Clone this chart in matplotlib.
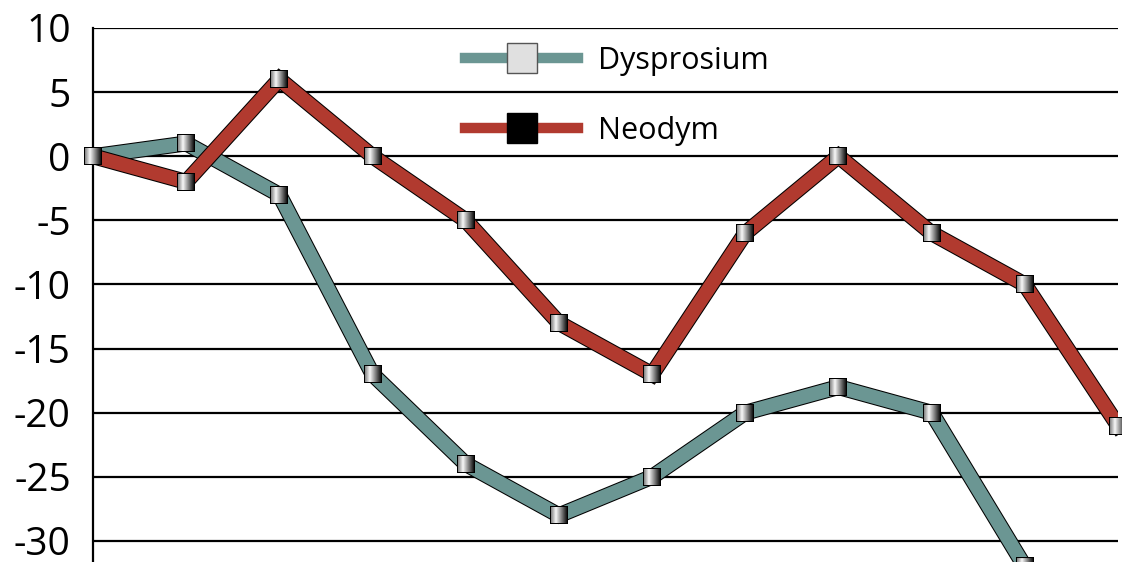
import numpy as np
import matplotlib
matplotlib.use("Agg")
import matplotlib.pyplot as plt
import matplotlib.patheffects as pe
from matplotlib.lines import Line2D
from matplotlib.offsetbox import OffsetImage, AnnotationBbox

plt.rcParams['font.family'] = ['Open Sans', 'DejaVu Sans']
plt.rcParams['axes.unicode_minus'] = False

# values
x_dy = list(range(11))
dysprosium = [0, 1, -3, -17, -24, -28, -25, -20, -18, -20, -32]
x_nd = list(range(12))
neodym = [0, -2, 6, 0, -5, -13, -17, -6, 0, -6, -10, -21]
yticks = [10, 5, 0, -5, -10, -15, -20, -25, -30]

teal = '#6b9693'
red = '#b13a2f'

W, H = 1122, 562
fig = plt.figure(figsize=(W / 100, H / 100), dpi=100)
ax = fig.add_axes([93 / W, 0, (1118 - 93) / W, 1 - 28 / H])

ax.set_xlim(0, 11)
ax.set_ylim(-31.64, 10)
ax.set_yticks(yticks)
ax.set_xticks([])
ax.grid(axis='y', color='black', lw=1.6)
ax.set_axisbelow(True)
for s in ['top', 'right', 'bottom']:
    ax.spines[s].set_visible(False)
ax.spines['left'].set_linewidth(1.6)
ax.tick_params(axis='y', length=0, pad=16, labelsize=28)

outline = [pe.Stroke(linewidth=11.5, foreground='black'), pe.Normal()]
ax.plot(x_dy, dysprosium, color=teal, lw=10, solid_joinstyle='miter',
        path_effects=outline, zorder=3)
ax.plot(x_nd, neodym, color=red, lw=10, solid_joinstyle='miter',
        path_effects=outline, zorder=4)

# gradient square marker
n = 18
cols = np.linspace(0, 1, n - 2)
shade = np.interp(cols, [0, 0.3, 1], [0.55, 0.97, 0.1])
img = np.zeros((n, n, 3))
img[1:-1, 1:-1, :] = shade[None, :, None]
for xs, ys in [(x_dy, dysprosium), (x_nd, neodym)]:
    for xv, yv in zip(xs, ys):
        ab = AnnotationBbox(OffsetImage(img, zoom=1, dpi_cor=False), (xv, yv),
                            frameon=False, pad=0, annotation_clip=False)
        ab.set_zorder(6)
        ax.add_artist(ab)

handles = [
    Line2D([], [], color=teal, lw=7.5, marker='s', markersize=21,
           markerfacecolor='#e0e0e0', markeredgecolor='#555555', markeredgewidth=1),
    Line2D([], [], color=red, lw=7.5, marker='s', markersize=21,
           markerfacecolor='black', markeredgecolor='black'),
]
fig.legend(handles, ['Dysprosium', 'Neodym'], loc='upper left',
           bbox_to_anchor=(465 / W, 1 - 46 / H), frameon=False, fontsize=22,
           handlelength=3.7, handletextpad=0.65, labelspacing=1.3,
           borderpad=0, borderaxespad=0)

fig.savefig('out.png', dpi=100)
